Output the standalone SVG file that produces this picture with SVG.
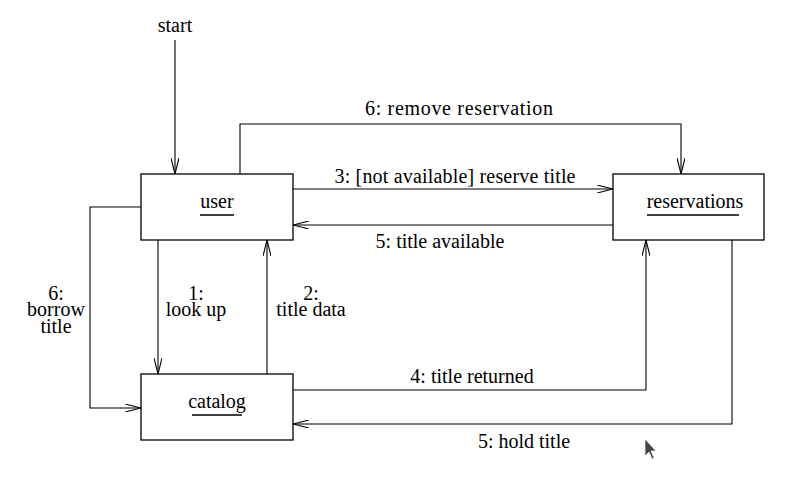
<svg xmlns="http://www.w3.org/2000/svg" width="789" height="494" viewBox="0 0 789 494">
<style>
.box{fill:#fff;stroke:#000;stroke-width:1.3}
.ln{fill:none;stroke:#000;stroke-width:1.1}
.ul{stroke:#000;stroke-width:1.3}
text{font-family:"Liberation Serif","Times New Roman",serif;font-size:20px;fill:#000;text-anchor:middle}
</style>
<defs>
<marker id="a" viewBox="0 0 16 8" refX="16" refY="4" markerWidth="16" markerHeight="8" markerUnits="userSpaceOnUse" orient="auto">
<path d="M0,0 L16,4 L0,8" fill="none" stroke="#000" stroke-width="1.1"/>
</marker>
</defs>
<rect width="789" height="494" fill="#fff"/>
<g id="connectors">
<path class="ln" d="M175,40 V174" marker-end="url(#a)"/>
<path class="ln" d="M240,174 V124 H681 V174" marker-end="url(#a)"/>
<path class="ln" d="M293,189 H613" marker-end="url(#a)"/>
<path class="ln" d="M613,225 H293" marker-end="url(#a)"/>
<path class="ln" d="M141,207 H90 V408 H141" marker-end="url(#a)"/>
<path class="ln" d="M158,240 V374" marker-end="url(#a)"/>
<path class="ln" d="M267,374 V240" marker-end="url(#a)"/>
<path class="ln" d="M293,390 H646 V240" marker-end="url(#a)"/>
<path class="ln" d="M732,240 V424 H293" marker-end="url(#a)"/>
<text x="175" y="32">start</text>
<text x="459" y="115" textLength="188" lengthAdjust="spacing">6: remove reservation</text>
<text x="455" y="183" textLength="241" lengthAdjust="spacing">3: [not available] reserve title</text>
<text x="440" y="248">5: title available</text>
<text x="56" y="300">6:</text>
<text x="56" y="316">borrow</text>
<text x="56" y="333">title</text>
<text x="196" y="300">1:</text>
<text x="196" y="316">look up</text>
<text x="311" y="300">2:</text>
<text x="311" y="316">title data</text>
<text x="472" y="383">4: title returned</text>
<text x="524" y="448">5: hold title</text>
</g>
<g id="user">
<rect class="box" x="141" y="174" width="152" height="66"/>
<text x="217" y="208">user</text>
<line class="ul" x1="200" y1="215" x2="234" y2="215"/>
</g>
<g id="reservations">
<rect class="box" x="613" y="174" width="151" height="66"/>
<text x="695" y="208">reservations</text>
<line class="ul" x1="647" y1="215" x2="739" y2="215"/>
</g>
<g id="catalog">
<rect class="box" x="141" y="374" width="152" height="66"/>
<text x="217" y="408">catalog</text>
<line class="ul" x1="192" y1="415" x2="242" y2="415"/>
</g>
<path d="M645,439 L645,456 L649,452 L652,459 L654,458 L651,451 L656,451 Z" fill="#444" stroke="#eee" stroke-width="0.8"/>
</svg>
